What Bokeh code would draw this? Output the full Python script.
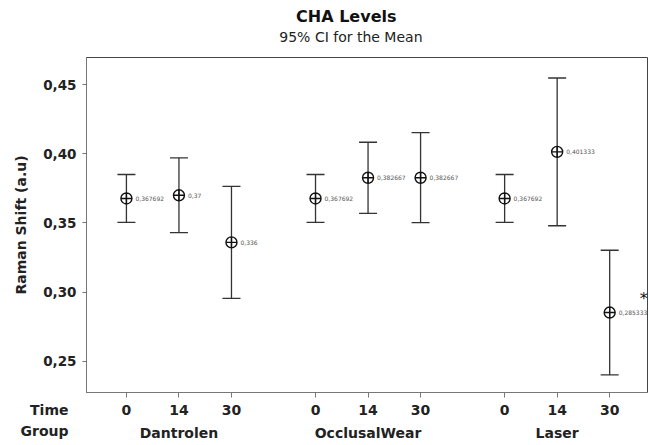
from bokeh.plotting import figure
from bokeh.models import (ColumnDataSource, Range1d, FixedTicker, LinearAxis,
                          Title, Whisker, TeeHead)
from bokeh.core.properties import value
from bokeh.embed import file_html
from bokeh.resources import INLINE

# ---- data -------------------------------------------------------------
groups = ["Dantrolen", "OcclusalWear", "Laser"]
times = ["0", "14", "30"]
means = [0.367692, 0.37, 0.336,
         0.367692, 0.382667, 0.382667,
         0.367692, 0.401333, 0.285333]
lower = [0.3505, 0.3430, 0.2955,
         0.3505, 0.3570, 0.3502,
         0.3505, 0.3480, 0.2403]
upper = [0.3850, 0.3970, 0.3765,
         0.3850, 0.4083, 0.4152,
         0.3850, 0.4547, 0.3303]
y_ticks = [0.25, 0.30, 0.35, 0.40, 0.45]
star_index = 8          # significant-difference marker (Laser, 30)

# ---- layout helpers -----------------------------------------------------
FONT = "DejaVu Sans"
GROUP_STEP = 3.6
xs = [gi * GROUP_STEP + ti for gi in range(len(groups)) for ti in range(len(times))]
group_centers = [gi * GROUP_STEP + 1 for gi in range(len(groups))]
tick_text = [times[i % len(times)] for i in range(len(xs))]
val_text = [("%.6g" % m).replace(".", ",") for m in means]

src = ColumnDataSource(dict(x=xs, mean=means, lower=lower, upper=upper, lab=val_text))

p = figure(width=649, height=445, output_backend="svg", toolbar_location=None,
           x_range=Range1d(-0.76, 9.92), y_range=Range1d(0.2276, 0.4695),
           min_border_left=86, min_border_right=2, min_border_top=57, min_border_bottom=53)
p.background_fill_color = "white"
p.border_fill_color = "white"
p.outline_line_color = "#444444"
p.outline_line_width = 1
p.xgrid.visible = False
p.ygrid.visible = False

# y axis
ya = p.yaxis[0]
ya.ticker = FixedTicker(ticks=y_ticks)
ya.major_label_overrides = {t: ("%.2f" % t).replace(".", ",") for t in y_ticks}
ya.major_label_text_font = FONT
ya.major_label_text_font_style = "bold"
ya.major_label_text_font_size = "13.5px"
ya.major_label_text_color = "#222222"
ya.major_tick_in = 0
ya.major_tick_out = 4
ya.minor_tick_line_color = None
ya.axis_line_color = "#777777"
ya.major_tick_line_color = "#777777"
ya.major_label_standoff = 6
ya.axis_label = "Raman Shift (a.u)"
ya.axis_label_text_font = FONT
ya.axis_label_text_font_style = "bold"
ya.axis_label_text_font_size = "14px"
ya.axis_label_text_color = "#222222"
ya.axis_label_standoff = 11

# x axis (time)
xa = p.xaxis[0]
xa.ticker = FixedTicker(ticks=xs)
xa.major_label_overrides = {x: t for x, t in zip(xs, tick_text)}
xa.major_label_text_font = FONT
xa.major_label_text_font_style = "bold"
xa.major_label_text_font_size = "14px"
xa.major_label_text_color = "#222222"
xa.major_tick_in = 0
xa.major_tick_out = 5
xa.minor_tick_line_color = None
xa.axis_line_color = "#777777"
xa.major_tick_line_color = "#777777"
xa.major_label_standoff = 7

# second x axis (group)
ga = LinearAxis(ticker=FixedTicker(ticks=group_centers),
                major_label_overrides={c: g for c, g in zip(group_centers, groups)})
ga.major_label_text_font = FONT
ga.major_label_text_font_style = "bold"
ga.major_label_text_font_size = "14px"
ga.major_label_text_color = "#222222"
ga.major_tick_line_color = None
ga.minor_tick_line_color = None
ga.axis_line_color = None
ga.major_tick_in = 0
ga.major_tick_out = 0
ga.major_label_standoff = 7
p.add_layout(ga, "below")

# row labels ("Group" closer, "Time" pulled up into the tick-label row)
def row_title(txt, standoff):
    return Title(text=txt, align="right", offset=579, vertical_align="top",
                 standoff=standoff, text_font=FONT, text_font_style="bold",
                 text_font_size="14px", text_color="#222222")

p.add_layout(row_title("Group", -42), "below")
p.add_layout(row_title("Time", -84), "below")

# titles (subtitle closer to the frame)
p.add_layout(Title(text="95% CI for the Mean", align="right", offset=225, standoff=25,
                   text_font=FONT, text_font_style="normal", text_font_size="14px",
                   text_color="#222222"), "above")
p.add_layout(Title(text="CHA Levels", align="right", offset=251, standoff=-22,
                   text_font=FONT, text_font_style="bold", text_font_size="16px",
                   text_color="#111111"), "above")

# CI bars
p.add_layout(Whisker(base="x", upper="upper", lower="lower", source=src, dimension="height",
                     line_color="#333333", line_width=1.3,
                     upper_head=TeeHead(size=18, line_color="#333333", line_width=1.3),
                     lower_head=TeeHead(size=18, line_color="#333333", line_width=1.3)))

# means
p.scatter("x", "mean", source=src, marker="circle_cross", size=11,
          fill_color=None, line_color="#111111", line_width=1.4)
p.text("x", "mean", text="lab", source=src, x_offset=9, text_baseline="middle",
       text_font=value(FONT), text_font_size="6px", text_color="#555555")

# significance asterisk
p.text(x=[xs[star_index]], y=[means[star_index]], text=["*"], x_offset=34, y_offset=-14,
       text_align="center", text_baseline="middle",
       text_font=value(FONT), text_font_size="16px", text_color="#111111")

open("out.html", "w").write(file_html(p, INLINE))
